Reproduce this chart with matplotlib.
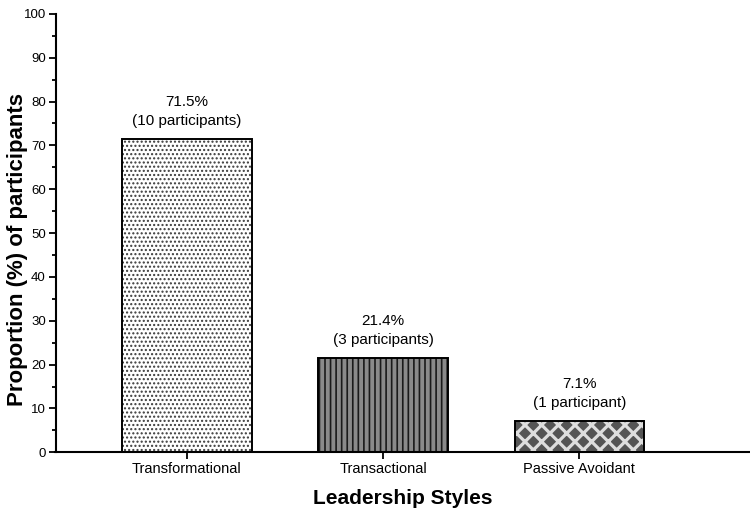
import matplotlib.pyplot as plt
from matplotlib.ticker import MultipleLocator

plt.rcParams['font.family'] = ['Liberation Sans', 'DejaVu Sans']

# data
styles = ['Transformational', 'Transactional', 'Passive Avoidant']
proportions = [71.5, 21.4, 7.1]
labels = ['71.5%\n(10 participants)', '21.4%\n(3 participants)', '7.1%\n(1 participant)']

# fill style per bar: face colour, hatch, hatch colour, hatch line width
faces = ['white', '#8a8a8a', '#555555']
hatches = ['....', '|||', 'xx']
hatch_colors = ['#3a3a3a', '#1a1a1a', '#dedede']
hatch_widths = [1.0, 1.2, 2.3]

fig = plt.figure(figsize=(7.5, 5.14), dpi=100)
ax = fig.add_axes([0.074, 0.12, 0.926, 0.853])

x = list(range(len(styles)))
width = 0.66

# hatched fill first, then the black outline on top
for i in x:
    with plt.rc_context({'hatch.linewidth': hatch_widths[i]}):
        ax.bar(x[i], proportions[i], width=width, facecolor=faces[i],
               hatch=hatches[i], edgecolor=hatch_colors[i], linewidth=0, zorder=2)
bars = ax.bar(x, proportions, width=width, fill=False, edgecolor='black',
              linewidth=1.4, zorder=3)

for b, lab in zip(bars, labels):
    ax.annotate(lab, (b.get_x() + b.get_width() / 2, b.get_height()),
                xytext=(0, 8), textcoords='offset points',
                ha='center', va='bottom', fontsize=11, linespacing=1.45)

ax.set_ylim(0, 100)
ax.set_xlim(-0.67, 2.87)
ax.yaxis.set_major_locator(MultipleLocator(10))
ax.yaxis.set_minor_locator(MultipleLocator(5))
ax.set_xticks(x)
ax.set_xticklabels(styles)

for s in ['top', 'right']:
    ax.spines[s].set_visible(False)
for s in ['left', 'bottom']:
    ax.spines[s].set_linewidth(1.5)

ax.tick_params(axis='both', which='major', width=1.3, length=5, pad=2)
ax.tick_params(axis='x', labelsize=10.5)
ax.tick_params(axis='y', labelsize=9.5)
ax.tick_params(axis='y', which='minor', width=1.3, length=3)

ax.set_ylabel('Proportion (%) of participants', fontsize=16, fontweight='bold')
ax.yaxis.set_label_coords(-0.039, 0.463)
ax.set_xlabel('Leadership Styles', fontsize=15, fontweight='bold', labelpad=9)

plt.savefig('out.png', dpi=100)
